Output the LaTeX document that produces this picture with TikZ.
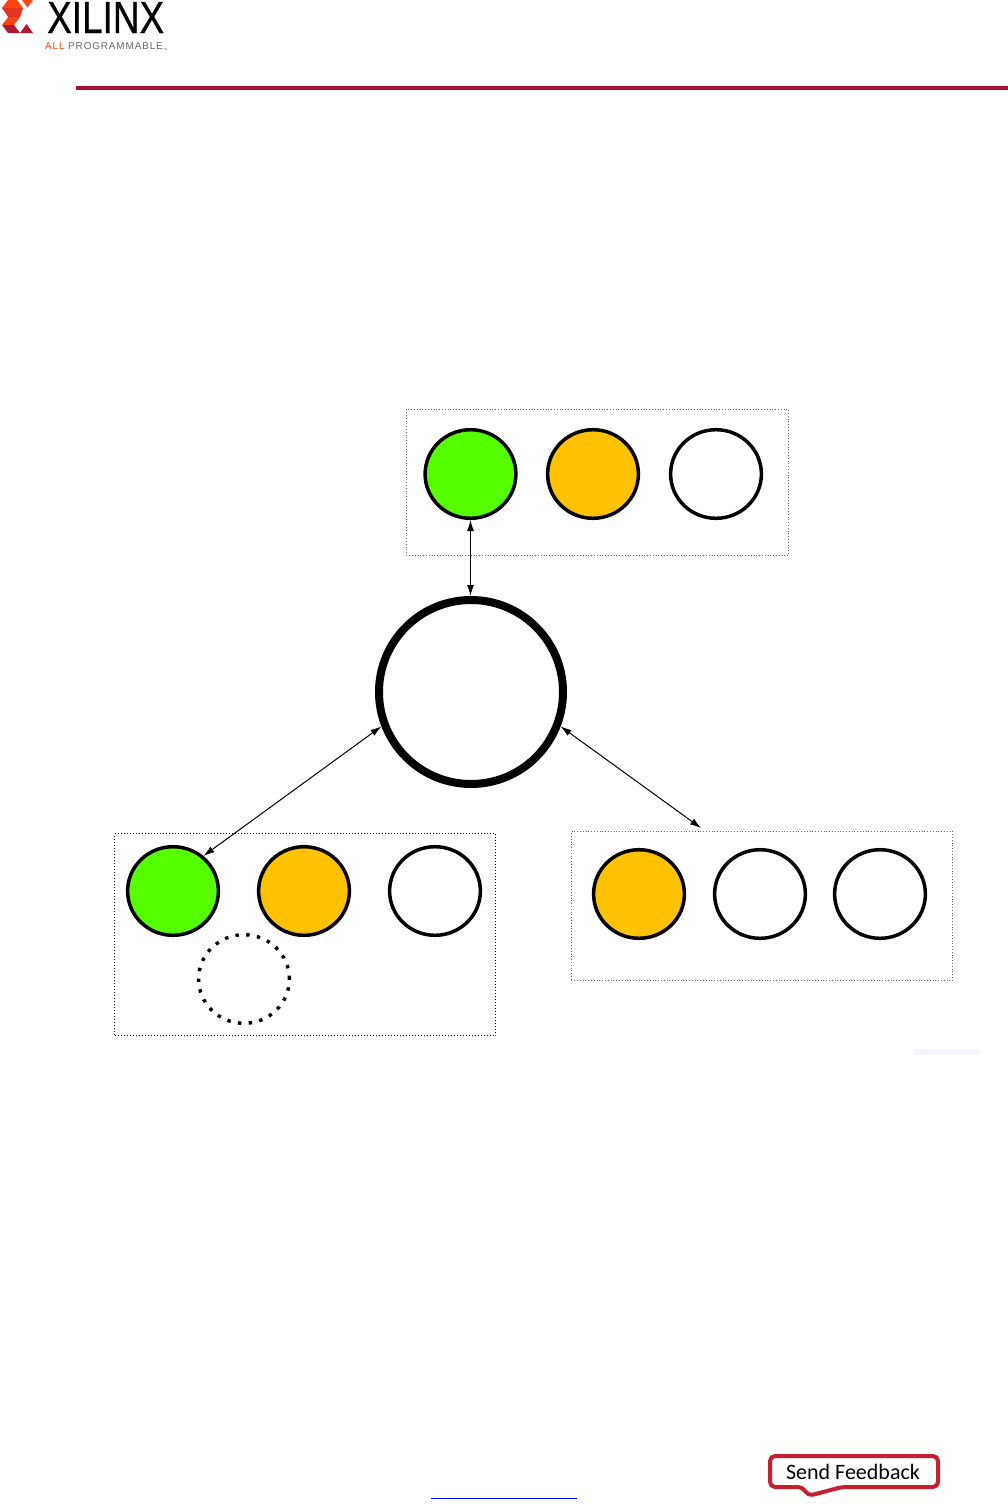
\documentclass[tikz,border=0pt]{standalone}
\usepackage{fontspec}
\setmainfont{Carlito}
\newfontfamily\logofont[FakeBold=0.6]{Liberation Sans}
\newfontfamily\subfont[LetterSpace=9]{Liberation Sans}
\usetikzlibrary{arrows.meta,shapes.geometric}
\definecolor{xgreen}{RGB}{85,255,0}
\definecolor{xamber}{RGB}{255,194,0}
\definecolor{xrule}{RGB}{174,13,52}
\definecolor{xfb}{RGB}{196,32,50}
\definecolor{xred}{RGB}{255,68,20}
\definecolor{xmid}{RGB}{228,50,36}
\definecolor{xdark}{RGB}{178,24,50}
\tikzset{
  disc/.style={ellipse,draw=black,line width=3.5pt,minimum width=90pt,minimum height=88pt,inner sep=0pt,fill=white},
  go/.style={disc,fill=xgreen},
  wait/.style={disc,fill=xamber},
  ghost/.style={disc,line width=3.4pt,dash pattern=on 3.4pt off 7.4pt,fill=none},
  hubdisc/.style={circle,draw=black,line width=8pt,minimum size=184pt,inner sep=0pt,fill=white},
  group/.style={draw=black,line width=1pt,dotted,inner sep=0pt,anchor=north west},
  faintgroup/.style={draw=black!60,line width=0.8pt,dotted,inner sep=0pt,anchor=north west},
  link/.style={line width=1pt,{Latex[length=11pt,width=7pt]}-{Latex[length=11pt,width=7pt]}}
}
\pgfset{minimum width=0pt}
\begin{document}
\begin{tikzpicture}[x=1pt,y=-1pt]
\useasboundingbox (0,0) rectangle (1008,1510);
% logo
\fill[xred] (2,8) -- (8,0) -- (17,0) -- (23,8) -- cycle;
\fill[xmid] (2,8) -- (23,8) -- (20,17) -- (8.3,17) -- cycle;
\fill[xred] (8.3,17) -- (20,17) -- (14,25) -- (2,25) -- cycle;
\fill[xdark] (2,25) -- (14,25) -- (20,33) -- (8,33) -- cycle;
\fill[xred] (22,0) -- (33,0) -- (27.5,7.5) -- cycle;
\fill[xdark] (20,33) -- (26.5,24) -- (33,33) -- cycle;
\node[inner sep=0pt,anchor=west,text=black] (logotext) at (47,17.5)
  {\logofont\fontsize{40}{40}\selectfont\resizebox{117pt}{31pt}{XILINX}};
\node[inner sep=0pt,anchor=west] (logosub) at (45,47)
  {\subfont\fontsize{9.9}{10}\selectfont\textcolor{xred}{ALL} \textcolor{black!60}{PROGRAMMABLE}\raisebox{-1pt}{\fontsize{3}{3}\selectfont\textcolor{black!60}{TM}}};
\fill[xrule] (76,86) rectangle (1008,90);
% groups
\node[faintgroup,minimum width=382pt,minimum height=146pt] (topbox) at (406,409) {};
\node[group,minimum width=381pt,minimum height=202pt] (leftbox) at (114,833) {};
\node[faintgroup,minimum width=381pt,minimum height=149pt] (rightbox) at (571,831) {};
% discs
\node[go,minimum width=90.8pt,minimum height=88.6pt] (t1) at (470.5,474) {};
\node[wait,minimum width=90.8pt,minimum height=88.6pt] (t2) at (593,474) {};
\node[disc,minimum width=90.8pt,minimum height=88.6pt] (t3) at (716,474) {};
\node[hubdisc] (hub) at (471,692) {};
\node[go,minimum width=90.8pt,minimum height=88.6pt] (l1) at (173,891) {};
\node[wait,minimum width=90.8pt,minimum height=88.6pt] (l2) at (304,891) {};
\node[disc,minimum width=90.8pt,minimum height=88.6pt] (l3) at (435,891) {};
\node[ghost,minimum width=90.8pt,minimum height=88.6pt] (l4) at (244,979) {};
\node[wait,minimum width=90.8pt,minimum height=88.6pt] (r1) at (639,894) {};
\node[disc,minimum width=90.8pt,minimum height=88.6pt] (r2) at (760,894) {};
\node[disc,minimum width=90.8pt,minimum height=88.6pt] (r3) at (880,894) {};
\coordinate (rightend) at (701,828);
% connectors
\draw[link] (t1.south) -- (t1.south |- hub.north);
\draw[link] (hub.201) -- (l1.49);
\draw[link] (hub.339) -- (rightend);
% faint smudge
\fill[blue!4] (914,1049) rectangle (980,1055);
% footer
\draw[blue,line width=1pt] (431,1498.5) -- (577,1498.5);
\draw[xfb,line width=4pt,rounded corners=5pt,fill=white]
  (770,1456) -- (938,1456) -- (938,1487) -- (842,1487) -- (808,1496) -- (803,1487) -- (770,1487) -- cycle;
\node[inner sep=0pt] (fb) at (853,1471.5) {\fontsize{22}{24}\selectfont Send Feedback};
\end{tikzpicture}
\end{document}
